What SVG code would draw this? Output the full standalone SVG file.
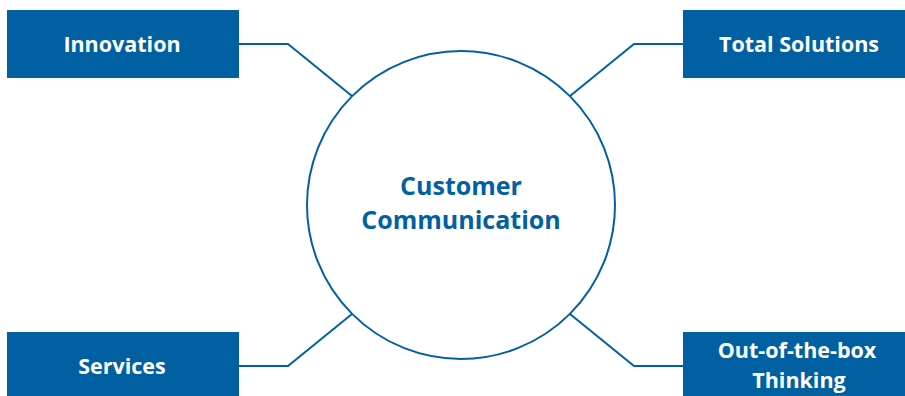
<svg xmlns="http://www.w3.org/2000/svg" width="905" height="396" viewBox="0 0 905 396">
<style>
.box{fill:#0060a2}
.bt{fill:#fff;font-family:"Open Sans",sans-serif;font-weight:bold;font-size:21.5px;text-anchor:middle}
.ct{fill:#0060a2;font-family:"Open Sans",sans-serif;font-weight:bold;font-size:25px;text-anchor:middle}
.ln{fill:none;stroke:#0060a2;stroke-width:2}
</style>
<rect width="905" height="396" fill="#fff"/>
<g id="connectors">
<polyline class="ln" points="239,44 288,44 352,96"/>
<polyline class="ln" points="683,44 634,44 570,96"/>
<polyline class="ln" points="239,366 288,366 352,314"/>
<polyline class="ln" points="683,366 634,366 570,314"/>
</g>
<g id="center">
<circle cx="461" cy="205" r="154" fill="#fff" stroke="#0060a2" stroke-width="2"/>
<text class="ct" x="461" y="195">Customer</text>
<text class="ct" x="461" y="229">Communication</text>
</g>
<g id="innovation">
<rect class="box" x="7" y="10" width="232" height="68"/>
<text class="bt" x="122" y="52">Innovation</text>
</g>
<g id="total-solutions">
<rect class="box" x="683" y="10" width="222" height="68"/>
<text class="bt" x="799" y="52">Total Solutions</text>
</g>
<g id="services">
<rect class="box" x="7" y="332" width="232" height="64"/>
<text class="bt" x="122" y="374">Services</text>
</g>
<g id="out-of-the-box">
<rect class="box" x="683" y="332" width="222" height="64"/>
<text class="bt" x="797" y="358">Out-of-the-box</text>
<text class="bt" x="799" y="388">Thinking</text>
</g>
</svg>
